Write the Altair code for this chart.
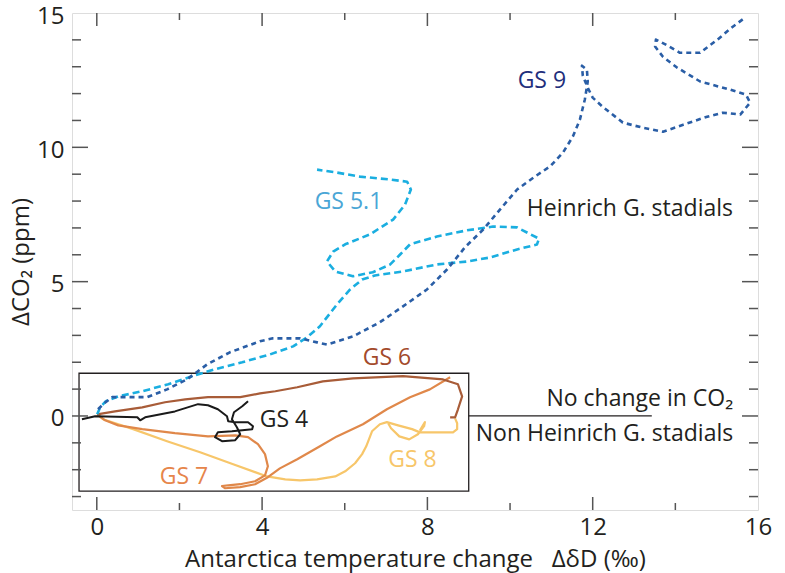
import altair as alt
import pandas as pd

# ---------------- data ----------------
gs9_x = [0.03, 0.18, 0.37, 0.81, 1.22, 1.70, 2.18, 2.67, 3.22, 3.95, 4.26, 4.92, 5.33, 5.57, 6.20, 6.85,
         7.41, 7.99, 8.48, 8.91, 9.35, 9.76, 10.17, 10.61, 10.97, 11.28, 11.52, 11.69, 11.81, 11.88,
         11.86, 11.74, 11.76, 11.88, 12.00, 12.24, 12.73, 13.21, 13.70, 14.19, 14.77, 15.15, 15.57,
         15.81, 15.71, 15.32, 14.60, 14.04, 13.70, 13.51, 13.53, 13.77, 14.11, 14.60, 15.02, 15.39, 15.69]
gs9_y = [0.25, 0.47, 0.70, 0.70, 0.70, 0.99, 1.36, 1.92, 2.37, 2.78, 2.89, 2.89, 2.74, 2.66, 2.96, 3.49,
         4.08, 4.71, 5.46, 6.28, 6.94, 7.69, 8.43, 8.92, 9.29, 9.80, 10.40, 11.03, 11.78, 12.45,
         12.89, 13.04, 12.67, 12.22, 11.85, 11.51, 10.92, 10.73, 10.58, 10.84, 11.14, 11.29, 11.22,
         11.66, 11.96, 12.15, 12.45, 12.97, 13.37, 13.75, 14.01, 13.82, 13.52, 13.52, 14.01, 14.49, 14.83]

gs51_x = [0.01, 0.08, 0.22, 0.52, 1.10, 1.73, 2.31, 2.86, 3.52, 4.19, 4.75, 5.09, 5.40, 5.81, 6.13, 6.42,
          6.73, 7.41, 8.23, 8.96, 9.52, 10.17, 10.65, 10.70, 10.17, 9.59, 8.96, 8.23, 7.58, 7.34, 7.10,
          6.68, 6.20, 5.77, 5.57, 5.72, 6.01, 6.61, 7.17, 7.46, 7.60, 7.51, 7.10, 6.37, 5.81, 5.33]
gs51_y = [0.06, 0.32, 0.55, 0.73, 0.92, 1.18, 1.48, 1.74, 2.00, 2.29, 2.59, 2.93, 3.34, 4.15, 4.71, 5.08,
          5.23, 5.38, 5.64, 5.75, 5.90, 6.20, 6.38, 6.60, 7.02, 7.05, 6.91, 6.68, 6.39, 6.01, 5.64,
          5.35, 5.20, 5.38, 5.75, 6.12, 6.39, 6.76, 7.31, 7.87, 8.43, 8.72, 8.80, 8.91, 9.06, 9.17]

gs6_x = [0.01, 0.44, 1.10, 1.65, 2.14, 2.69, 3.47, 3.95, 4.32, 4.85, 5.47, 6.20, 7.41, 8.38, 8.74,
         8.84, 8.74, 8.67, 8.55]
gs6_y = [0.06, 0.17, 0.32, 0.51, 0.62, 0.70, 0.70, 0.84, 0.92, 1.07, 1.29, 1.40, 1.48, 1.36, 1.18,
         0.73, 0.25, -0.05, -0.05]

gs4_x = [-0.36, -0.04, 0.98, 1.05, 1.17, 1.89, 2.45, 2.69, 2.93, 3.15, 3.18, 3.35, 3.66, 3.78, 3.76,
         3.52, 3.27, 2.93, 2.86, 3.03, 3.35, 3.47, 3.39, 3.27, 3.32, 3.52, 3.66]
gs4_y = [-0.12, -0.01, -0.05, -0.16, -0.05, 0.17, 0.44, 0.40, 0.25, -0.01, -0.20, -0.23, -0.23, -0.38,
         -0.49, -0.53, -0.57, -0.61, -0.79, -0.94, -0.90, -0.68, -0.42, -0.12, 0.14, 0.36, 0.55]

gs7_x = [0.01, 0.20, 0.52, 1.10, 1.89, 2.69, 3.35, 3.66, 3.90, 4.07, 4.14, 4.07, 3.83, 3.47, 3.18, 3.03,
         3.10, 3.47, 3.83, 4.14, 4.43, 4.85, 5.40, 5.81, 6.44, 7.02, 7.58, 8.06, 8.55]
gs7_y = [0.06, -0.16, -0.35, -0.49, -0.64, -0.76, -0.72, -0.79, -1.05, -1.42, -1.87, -2.21, -2.43,
         -2.54, -2.58, -2.61, -2.69, -2.65, -2.54, -2.28, -1.95, -1.61, -1.13, -0.76, -0.31, 0.25,
         0.70, 0.99, 1.44]

gs8_x = [0.01, 0.15, 0.88, 1.70, 2.50, 3.30, 4.12, 4.56, 4.92, 5.33, 5.77, 6.01, 6.25, 6.42, 6.52, 6.66,
         6.85, 7.02, 7.29, 7.63, 7.82, 8.31, 8.62, 8.72, 8.72, 8.67]
gs8_y = [0.06, -0.12, -0.49, -0.94, -1.35, -1.80, -2.25, -2.36, -2.40, -2.36, -2.25, -2.06, -1.76,
         -1.42, -1.13, -0.57, -0.31, -0.23, -0.35, -0.49, -0.61, -0.61, -0.61, -0.49, -0.27, -0.09]
gs8_loop_x = [7.05, 7.12, 7.32, 7.56, 7.77, 7.92, 7.94, 7.82]
gs8_loop_y = [-0.27, -0.46, -0.76, -0.87, -0.68, -0.38, -0.23, -0.53]

inset_box = {"x0": [-0.43], "x1": [9.0], "y0": [-2.8], "y1": [1.59]}
nochange_line = {"x0": [9.0], "x1": [13.43], "y": [0.0]}

x_labels = [0, 4, 8, 12, 16]
y_labels = [0, 5, 10, 15]
x_major_ticks = [0, 4, 8, 12]
x_minor_ticks = [2, 6, 10, 14]
y_major_ticks = [0, 5, 10]
y_minor_ticks = [-3, -2, -1, 1, 2, 3, 4, 6, 7, 8, 9, 11, 12, 13, 14]

labels_c = pd.DataFrame({
    "x": [10.77, 6.09, 12.90, 7.02, 4.53, 2.11, 7.64],
    "y": [12.22, 7.72, 7.43, 1.89, -0.42, -2.54, -1.91],
    "t": ["GS 9", "GS 5.1", "Heinrich G. stadials", "GS 6", "GS 4", "GS 7", "GS 8"],
    "c": ["#1f2f7c", "#4aa6d6", "#231f20", "#a34a2b", "#231f20", "#e6854a", "#f7c66a"],
})
labels_r = pd.DataFrame({
    "x": [15.40, 15.40],
    "y": [0.36, -0.94],
    "t": ["No change in CO\u2082", "Non Heinrich G. stadials"],
})

# ---------------- chart ----------------
FONT = "Open Sans"
W, H = 686, 497
xs = alt.Scale(domain=[-0.6, 16], nice=False, zero=False)
ys = alt.Scale(domain=[-3.5, 15], nice=False, zero=False)
XT = "Antarctica temperature change\u00a0\u00a0\u00a0\u0394\u03b4D (\u2030)"
YT = "\u0394CO\u2082 (ppm)"
xaxis = alt.Axis(values=x_labels, ticks=False, domain=False, grid=False, labelFlush=False,
                 labelFontSize=24, labelFont=FONT, labelColor="#231f20", labelPadding=5,
                 title=XT, titleFont=FONT, titleFontSize=24, titleFontWeight="normal",
                 titleColor="#231f20", titlePadding=8)
yaxis = alt.Axis(values=y_labels, ticks=False, domain=False, grid=False, labelOffset=3,
                 labelFontSize=24, labelFont=FONT, labelColor="#231f20", labelPadding=8,
                 title=YT, titleFont=FONT, titleFontSize=24, titleFontWeight="normal",
                 titleColor="#231f20", titlePadding=3)


def X(f):
    return alt.X(f, type="quantitative", scale=xs, axis=xaxis, title=XT)


def Y(f):
    return alt.Y(f, type="quantitative", scale=ys, axis=yaxis, title=YT)


def series(xv, yv, name, seg=0):
    return pd.DataFrame({"x": xv, "y": yv, "i": list(range(len(xv))), "s": name, "seg": seg})


def line(df, color, width, dash=None):
    kw = dict(color=color, strokeWidth=width, strokeCap="butt", strokeJoin="round")
    if dash:
        kw["strokeDash"] = dash
    return alt.Chart(df).mark_line(**kw).encode(
        x=X("x"), y=Y("y"), order=alt.Order("i:Q"), detail="seg:N")


layers = []
# inset box and zero line
layers.append(alt.Chart(pd.DataFrame(inset_box)).mark_rect(
    fill="transparent", stroke="#231f20", strokeWidth=1.3).encode(
    x=X("x0"), x2="x1", y=Y("y0"), y2="y1"))
layers.append(alt.Chart(pd.DataFrame(nochange_line)).mark_rule(
    color="#231f20", strokeWidth=1.3).encode(x=X("x0"), x2="x1", y=Y("y")))

# ticks (inward)
TC = "#555555"
for vals, length in ((x_major_ticks, 13), (x_minor_ticks, 7)):
    d = pd.DataFrame({"v": vals})
    layers.append(alt.Chart(d).mark_rule(color=TC, strokeWidth=1.5).encode(
        x=X("v"), y=alt.value(H), y2=alt.value(H - length)))
    layers.append(alt.Chart(d).mark_rule(color=TC, strokeWidth=1.5).encode(
        x=X("v"), y=alt.value(0), y2=alt.value(length)))
for vals, length in ((y_major_ticks, 16), (y_minor_ticks, 9)):
    d = pd.DataFrame({"v": vals})
    layers.append(alt.Chart(d).mark_rule(color=TC, strokeWidth=1.5).encode(
        y=Y("v"), x=alt.value(0), x2=alt.value(length)))
    layers.append(alt.Chart(d).mark_rule(color=TC, strokeWidth=1.5).encode(
        y=Y("v"), x=alt.value(W), x2=alt.value(W - length)))

# curves
layers.append(line(series(gs8_x, gs8_y, "GS 8"), "#f7c66a", 2.2))
layers.append(line(series(gs8_loop_x, gs8_loop_y, "GS 8", 1), "#f7c66a", 2.2))
layers.append(line(series(gs7_x, gs7_y, "GS 7"), "#e0884a", 2.2))
layers.append(line(series(gs6_x, gs6_y, "GS 6"), "#a85c38", 2.2))
layers.append(line(series(gs4_x, gs4_y, "GS 4"), "#1a1a1a", 2.0))
layers.append(line(series(gs51_x, gs51_y, "GS 5.1"), "#1aaee0", 2.6, [7, 4]))
layers.append(line(series(gs9_x, gs9_y, "GS 9"), "#2a5ea6", 2.6, [5, 4]))

# annotations
layers.append(alt.Chart(labels_c).mark_text(
    font=FONT, fontSize=23, align="center", baseline="alphabetic").encode(
    x=X("x"), y=Y("y"), text="t:N", color=alt.Color("c:N", scale=None)))
layers.append(alt.Chart(labels_r).mark_text(
    font=FONT, fontSize=23, align="right", baseline="alphabetic", color="#231f20").encode(
    x=X("x"), y=Y("y"), text="t:N"))

chart = alt.layer(*layers).properties(
    width=W, height=H,
    autosize=alt.AutoSizeParams(type="none"),
    padding={"left": 72, "top": 13, "right": 27, "bottom": 63},
).configure_view(stroke="#333333", strokeWidth=1.5).configure(background="white")

chart.save("out.html", embed_options={"renderer": "svg", "actions": False})
